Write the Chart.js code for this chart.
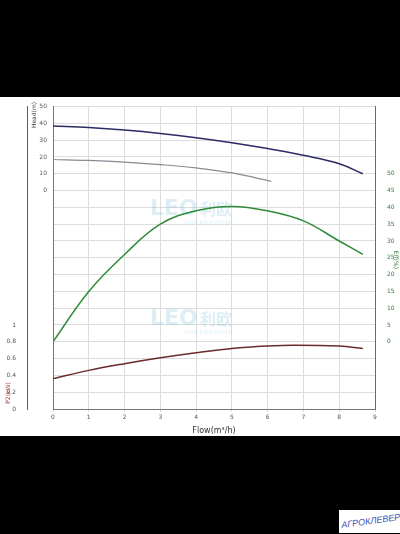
<!DOCTYPE html>
<html>
<head>
<meta charset="utf-8">
<script src="https://cdn.jsdelivr.net/npm/chart.js@4"></script>
<style>
  html, body { margin: 0; padding: 0; background: #000; width: 400px; height: 534px; overflow: hidden; }
  #wrap { position: absolute; left: 0; top: 97px; width: 400px; height: 339px; background: #fff; }
  #stamp { position: absolute; left: 339px; top: 510px; width: 61px; height: 23px; background: #fff;
    font: italic 9px "Liberation Sans", sans-serif; color: #3b4fb8; }
  #stamp span { position: absolute; left: 2px; top: 6px; transform: rotate(-8deg); white-space: nowrap; }
</style>
</head>
<body>
<div id="wrap"><canvas id="c" width="400" height="339"></canvas></div>
<div id="stamp"><span>АГРОКЛЕВЕР</span></div>
<script>
'use strict'

const flowHead1 = [0, 1, 2, 3, 4, 5, 6, 7, 8, 8.66];
const head1 = [38.5, 37.5, 36, 34, 31.5, 28.5, 25, 21, 16, 10];
const flowHead2 = [0, 1, 2, 3, 4, 5, 6.1];
const head2 = [18.5, 18, 17, 15.5, 13.5, 10.5, 5.5];
const flowEff = [0, 1, 2, 3, 4, 5, 6, 7, 8, 8.66];
const eff = [0, 15, 26, 35, 39, 40.3, 39, 36, 30, 26];
const flowP2 = [0, 1, 2, 3, 4, 5, 6, 6.7, 8, 8.66];
const p2 = [0.36, 0.46, 0.54, 0.61, 0.67, 0.72, 0.75, 0.76, 0.75, 0.72];

const pts = (xs, ys) => xs.map((x, i) => ({ x: x, y: ys[i] }));
const tickFont = { family: 'DejaVu Sans', size: 6 };

// watermark and axis titles drawn by hand, at the spots the reference uses
const extras = {
  id: 'extras',
  beforeDatasetsDraw(chart) {
    const ctx = chart.ctx;
    ctx.save();
    ctx.fillStyle = 'rgba(120,190,215,0.25)';
    [118, 228].forEach(y => {
      ctx.font = 'bold 22px "DejaVu Sans"';
      ctx.fillText('LEO', 150, y);
      ctx.font = 'bold 16px "Noto Sans CJK SC"';
      ctx.fillText('利欧', 200, y);
      ctx.font = '5px "DejaVu Sans"';
      ctx.fillText('LOVE EACH OTHER', 185, y + 9);
    });
    ctx.restore();
  },
  afterDraw(chart) {
    const ctx = chart.ctx;
    const title = (text, x, y, color, rot) => {
      ctx.save();
      ctx.translate(x, y);
      ctx.rotate(rot);
      ctx.font = '6px "DejaVu Sans"';
      ctx.fillStyle = color;
      ctx.textAlign = 'center';
      ctx.textBaseline = 'middle';
      ctx.fillText(text, 0, 0);
      ctx.restore();
    };
    title('Head(m)', 34, 18, '#444', -Math.PI / 2);
    title('P2(kW)', 8, 296, '#a04040', -Math.PI / 2);
    title('Eff(%)', 396, 163, '#3a7a3a', Math.PI / 2);
  }
};

new Chart(document.getElementById('c'), {
  type: 'line',
  data: {
    datasets: [
      { data: pts(flowHead1, head1), borderColor: '#2b2b66', borderWidth: 1.5, yAxisID: 'head' },
      { data: pts(flowHead2, head2), borderColor: '#8a8a95', borderWidth: 1.2, yAxisID: 'head' },
      { data: pts(flowEff, eff), borderColor: '#2f8a3a', borderWidth: 1.5, yAxisID: 'eff' },
      { data: pts(flowP2, p2), borderColor: '#6b2a2a', borderWidth: 1.5, yAxisID: 'p2' }
    ]
  },
  options: {
    responsive: false,
    animation: false,
    layout: { padding: { top: 6, left: 0, right: 0, bottom: 0 } },
    elements: { point: { radius: 0 }, line: { tension: 0.4 } },
    plugins: { legend: { display: false }, tooltip: { enabled: false } },
    scales: {
      x: {
        type: 'linear', min: 0, max: 9,
        ticks: { stepSize: 1, font: tickFont, color: '#555', padding: 2 },
        grid: { color: '#dcdcdc', tickLength: 3 },
        border: { color: '#777' },
        title: { display: true, text: 'Flow(m³/h)', font: { family: 'DejaVu Sans', size: 8 }, color: '#333', padding: 0 },
        afterFit: s => { s.height = 27; }
      },
      head: {
        position: 'left', weight: 0, min: -130, max: 50,
        ticks: { stepSize: 10, font: tickFont, color: '#555', padding: 6,
          callback: v => v >= 0 ? v : '' },
        grid: { color: '#dcdcdc', drawTicks: false },
        border: { color: '#777' },
        afterFit: s => { s.width = 26; }
      },
      p2: {
        position: 'left', weight: 1, min: 0, max: 3.6,
        ticks: { stepSize: 0.2, font: tickFont, color: '#555', padding: 3,
          callback: v => v <= 1.0001 ? Math.round(v * 10) / 10 : '' },
        grid: { display: false },
        border: { color: '#a04040' },
        afterFit: s => { s.width = 27; }
      },
      eff: {
        position: 'right', min: -20, max: 70,
        ticks: { stepSize: 5, font: tickFont, color: '#3a7a3a', padding: 4,
          callback: v => (v >= 0 && v <= 50) ? v : '' },
        grid: { display: false },
        border: { color: '#3a8a3a' },
        afterFit: s => { s.width = 25; }
      }
    }
  },
  plugins: [extras]
});
</script>
</body>
</html>
